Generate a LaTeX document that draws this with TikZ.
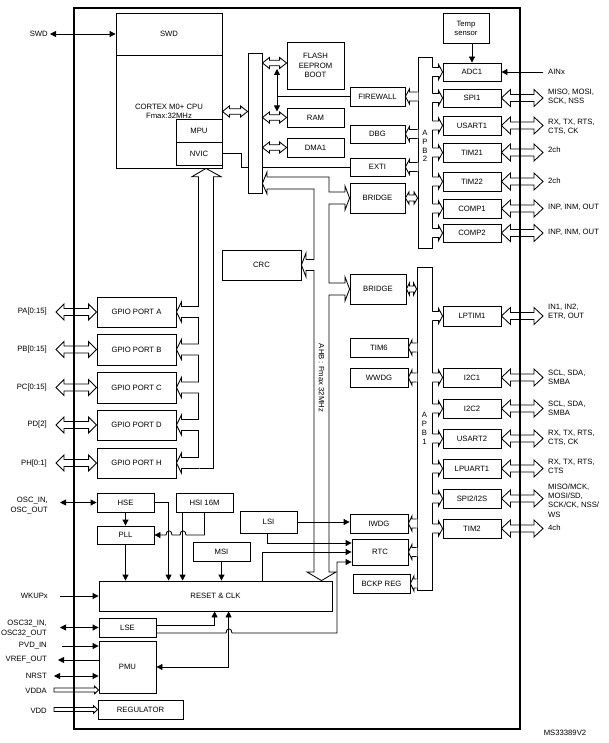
\documentclass[tikz,border=0pt]{standalone}
\usepackage{fontspec}
\setmainfont{Liberation Sans}
\usetikzlibrary{arrows.meta,calc}
\newcommand\myfs{\fontsize{7.7}{9.2}\selectfont}
\newcommand\bx[6]{\node[box, minimum width={#4-#2}, minimum height={#5-#3}] (#1) at ({(#2+#4)/2},{(#3+#5)/2}) {#6};}
% hollow single arrow, open base, white fill: #1 sign (- right, + left), #2 base, #3 tip, #4 shaft half, #5 head half, #6 head length
\newcommand\hbus[6]{%
 \fill[white] let \p1=#2,\p2=#3 in ({\x1#10.9pt},{\y2+#4pt}) -- ({\x2#1#6pt},{\y2+#4pt}) -- ({\x2#1#6pt},{\y2+#5pt}) -- (\p2) -- ({\x2#1#6pt},{\y2-#5pt}) -- ({\x2#1#6pt},{\y2-#4pt}) -- ({\x1#10.9pt},{\y2-#4pt}) -- cycle;
 \draw[line,line join=miter] let \p1=#2,\p2=#3 in ({\x1},{\y2+#4pt}) -- ({\x2#1#6pt},{\y2+#4pt}) -- ({\x2#1#6pt},{\y2+#5pt}) -- (\p2) -- ({\x2#1#6pt},{\y2-#5pt}) -- ({\x2#1#6pt},{\y2-#4pt}) -- ({\x1},{\y2-#4pt});}
% hollow single arrow, closed, rightward
\newcommand\hbusc[5]{\draw[line] let \p1=#1,\p2=#2 in ({\x1},{\y2+#3pt}) -- ({\x2-#5pt},{\y2+#3pt}) -- ({\x2-#5pt},{\y2+#4pt}) -- (\p2) -- ({\x2-#5pt},{\y2-#4pt}) -- ({\x2-#5pt},{\y2-#3pt}) -- ({\x1},{\y2-#3pt}) -- cycle;}
% hollow double arrow: #2 left point (x), #3 right point (x,y)
\newcommand\dbus[6][]{\draw[line,line join=miter,#1] let \p1=#2,\p2=#3 in ({\x1},{\y2}) -- ({\x1+#6pt},{\y2+#5pt}) -- ({\x1+#6pt},{\y2+#4pt}) -- ({\x2-#6pt},{\y2+#4pt}) -- ({\x2-#6pt},{\y2+#5pt}) -- ({\x2},{\y2}) -- ({\x2-#6pt},{\y2-#5pt}) -- ({\x2-#6pt},{\y2-#4pt}) -- ({\x1+#6pt},{\y2-#4pt}) -- ({\x1+#6pt},{\y2-#5pt}) -- cycle;}
\begin{document}
\begin{tikzpicture}[x=1pt,y=-1pt,
 line/.style={line width=0.85pt},
 box/.style={draw,line width=0.85pt,fill=white,inner sep=0pt,align=center,font=\myfs},
 lbl/.style={inner sep=0pt,font=\myfs},
 arr/.style={line width=0.85pt,-{Triangle[length=6pt,width=6pt]}},
 darr/.style={line width=0.85pt,{Triangle[length=6pt,width=6pt]}-{Triangle[length=6pt,width=6pt]}}]
\useasboundingbox (0,0) rectangle (608,743);
\node[draw,line width=1.1pt,inner sep=0pt,minimum width=446,minimum height=721] (outer) at (297,368.5) {};
% boxes
\bx{swd}{116}{13}{222}{55}{SWD}
\bx{cpu}{116}{55}{222}{168}{CORTEX M0+ CPU\\Fmax:32MHz}
\bx{mpu}{176}{119}{222}{142}{MPU}
\bx{nvic}{176}{142}{222}{165}{NVIC}
\bx{flash}{287}{42}{344}{89}{FLASH\\EEPROM\\BOOT}
\bx{ram}{287}{108}{344}{127}{RAM}
\bx{dma}{287}{138}{344}{157}{DMA1}
\bx{firewall}{350}{87}{405}{106}{FIREWALL}
\bx{dbg}{350}{125}{405}{143}{DBG}
\bx{exti}{350}{158}{405}{176}{EXTI}
\bx{bridgeA}{350}{183}{405}{213}{BRIDGE}
\bx{temp}{443}{13}{489}{43}{Temp\\sensor}
\bx{adc}{443}{63}{501}{81}{ADC1}
\bx{spi1}{443}{89}{501}{107}{SPI1}
\bx{usart1}{443}{116}{501}{135}{USART1}
\bx{tim21}{443}{143}{501}{162}{TIM21}
\bx{tim22}{443}{172}{501}{191}{TIM22}
\bx{comp1}{443}{199}{501}{218}{COMP1}
\bx{comp2}{443}{224}{501}{242}{COMP2}
\bx{crc}{222}{250}{301}{280}{CRC}
\bx{bridgeB}{350}{274}{406}{304}{BRIDGE}
\bx{tim6}{350}{338}{408}{357}{TIM6}
\bx{wwdg}{350}{368}{408}{387}{WWDG}
\bx{iwdg}{350}{514}{408}{533}{IWDG}
\bx{rtc}{352}{539}{408}{565}{RTC}
\bx{bckp}{353}{574}{410}{593}{BCKP REG}
\bx{lptim}{443}{306}{501}{326}{LPTIM1}
\bx{ictwoa}{443}{368}{501}{387}{I2C1}
\bx{ictwob}{443}{399}{501}{418}{I2C2}
\bx{usart2}{443}{429}{501}{448}{USART2}
\bx{lpuart}{443}{459}{501}{478}{LPUART1}
\bx{spi2}{443}{489}{501}{508}{SPI2/I2S}
\bx{tim2}{443}{519}{501}{538}{TIM2}
\bx{gpA}{97}{297}{176}{327}{GPIO PORT A}
\bx{gpB}{97}{334}{176}{365}{GPIO PORT B}
\bx{gpC}{97}{372}{176}{403}{GPIO PORT C}
\bx{gpD}{97}{410}{176}{440}{GPIO PORT D}
\bx{gpH}{97}{448}{176}{478}{GPIO PORT H}
\bx{hse}{97}{493}{154}{512}{HSE}
\bx{hsi}{176}{493}{233}{512}{HSI 16M}
\bx{pll}{97}{526}{154}{544}{PLL}
\bx{msi}{193}{542}{250}{561}{MSI}
\bx{lsi}{240}{511}{297}{533}{LSI}
\bx{reset}{99}{581}{332}{611}{RESET \& CLK}
\bx{lse}{99}{618}{156}{637}{LSE}
\bx{pmu}{99}{641}{156}{693}{PMU}
\bx{reg}{98}{700}{183}{719}{REGULATOR}
% line behind the CPU bus
\draw[line] (nvic.east) -- ++(19,0) |- (exti.west);
% buses
\bx{cpubus}{248}{53}{262}{193}{}
\bx{apb2}{418}{57}{432}{248}{}
\bx{apb1}{417}{267}{432}{590}{}
\node[lbl,align=center,font=\fontsize{7.7}{8.9}\selectfont] (apb2t) at (425,146) {A\\P\\B\\2};
\node[lbl,align=center,font=\fontsize{7.7}{8.9}\selectfont] (apb1t) at (424.5,428) {A\\P\\B\\1};
\node[inner sep=0pt,minimum width=14,minimum height=291.5] (gbus) at (206,322.75) {};
\draw[line] (gbus.north west) -- (gbus.south west) -- (gbus.south east) -- (gbus.north east);
\draw[line,line join=miter] (gbus.north west) -- ++(-7,0) -- (gbus.north |- cpu.south) -- ($(gbus.north east)+(8,0)$) -- (gbus.north east);
\foreach \nm in {gpA,gpB,gpC,gpD,gpH} {\hbus{+}{(gbus.west)}{(\nm.east)}{5.5}{10}{5}}
% AHB
\coordinate (ahbx) at (321.5,0);
\draw[line,line join=miter] (267,177) -- (267,172) -- ($(cpubus.south east)+(0,-10)$) -- (267,194) -- (267,189) -- (314,189) -- (314,259.5) -- (306,259.5) -- (306,253) -- (crc.east) -- (306,277) -- (306,270.5) -- (314,270.5) -- (314,572) -- (307,572) -- (ahbx |- reset.north) -- (336,572) -- (329,572) -- (329,295) -- (345,295) -- (345,301) -- (bridgeB.west) -- (345,277) -- (345,283) -- (329,283) -- (329,204) -- (345,204) -- (345,210) -- (bridgeA.west) -- (345,186) -- (345,192) -- (329,192) -- (329,177) -- cycle;
\node[lbl,rotate=-90] (ahbt) at (321.5,378) {AHB : Fmax 32MHz};
% APB connectors
\foreach \nm in {adc,spi1,usart1,tim21,tim22,comp1,comp2} {\hbus{-}{(apb2.east)}{(\nm.west)}{4.5}{7.5}{4}}
\foreach \nm in {firewall,dbg,exti} {\hbus{+}{(apb2.west)}{(\nm.east)}{4.5}{7.5}{4}}
\foreach \nm in {lptim,ictwoa,ictwob,usart2,lpuart,spi2,tim2} {\hbus{-}{(apb1.east)}{(\nm.west)}{4.5}{7.5}{4}}
\foreach \nm in {tim6,wwdg,iwdg,rtc,bckp} {\hbus{+}{(apb1.west)}{(\nm.east)}{4.5}{7.5}{3.5}}
\dbus[fill=white]{(bridgeA.east)}{(apb2.west |- bridgeA.east)}{3}{6}{3.5}
\dbus[fill=white]{(bridgeB.east)}{(apb1.west |- bridgeB.east)}{3}{6}{3}
% CPU bus connectors
\dbus{(cpu.east)}{(cpubus.west |- cpu.east)}{2.7}{5.5}{7}
\dbus{(cpubus.east)}{([yshift=2.5pt]flash.west)}{2.7}{5.5}{7}
\dbus{(cpubus.east)}{(ram.west)}{2.7}{5.5}{7}
\dbus{(cpubus.east)}{(dma.west)}{2.7}{5.5}{7}
\coordinate (vt) at (277,69);
\coordinate (vb) at (277,111.5);
\draw[darr] (vt) -- (vb);
\draw[line] (firewall.west) -- (firewall.west -| vt);
% temp, ADC input
\draw[arr] (temp.south -| adc.north) -- (adc.north);
\coordinate (cain) at (543,72);
\draw[arr] (cain) -- (adc.east);
% clocks
\draw[arr] (hse.south) -- (pll.north);
\coordinate (rH) at ([xshift=70pt]reset.north west);
\draw[arr] (hse.east) -| (rH);
\coordinate (hsiA) at ([xshift=7pt]hsi.south west);
\draw[arr] (hsiA) -- (hsiA |- reset.north);
\draw[arr] (hsi.south) -- (hsi.south |- pll.east) -- (186,535) .. controls (186,529.5) and (180,529.5) .. (180,535) -- (172,535) .. controls (172,529.5) and (166,529.5) .. (166,535) -- (pll.east);
\draw[arr] (pll.south) -- (pll.south |- reset.north);
\draw[arr] (msi.south) -- (msi.south |- reset.north);
\draw[arr] (lsi.east) -- (lsi.east -| iwdg.west);
\coordinate (lsiB) at ([xshift=28pt]lsi.south west);
\draw[arr] (lsiB) |- ([yshift=9pt]rtc.west);
\coordinate (rA) at ([xshift=164pt]reset.north west);
\draw[arr] (rA) |- (rtc.west);
\draw[arr] ([yshift=-5.5pt]lse.east) -- (226,633) .. controls (226,627.5) and (232,627.5) .. (232,633) -- (337,633) -- (337,562) -- ([yshift=-10pt]rtc.west);
\coordinate (rB) at ([xshift=116pt]reset.south west);
\draw[arr] ([yshift=2.5pt]lse.east) -| (rB);
\coordinate (rC) at ([xshift=130pt]reset.south west);
\draw[darr] (pmu.east) -| (rC);
% left I/O
\node[lbl,anchor=east] (tswd) at (48,34) {SWD};
\draw[darr] ([xshift=2pt]tswd.east) -- (swd.west);
\coordinate (lio) at (56,0);
\foreach \nm in {gpA,gpB,gpC,gpD,gpH} {\dbus{(\nm.west -| lio)}{(\nm.west)}{3.5}{8}{8}}
\node[lbl,anchor=east] (tpa) at (47,312) {PA[0:15]};
\node[lbl,anchor=east] (tpb) at (47,349.5) {PB[0:15]};
\node[lbl,anchor=east] (tpc) at (47,387.5) {PC[0:15]};
\node[lbl,anchor=east] (tpd) at (47,425) {PD[2]};
\node[lbl,anchor=east] (tph) at (47,463.5) {PH[0:1]};
\node[lbl,anchor=east,align=right] (tosc) at (48,505.5) {OSC\_IN,\\OSC\_OUT};
\coordinate (cosc) at (60,502.5);
\draw[darr] (cosc) -- (hse.west);
\node[lbl,anchor=east] (twk) at (48,595.5) {WKUPx};
\coordinate (cwk) at (60,596);
\draw[arr] (cwk) -- (reset.west);
\node[lbl,anchor=east,align=right] (tosc32) at (47,628.5) {OSC32\_IN,\\OSC32\_OUT};
\coordinate (cosc32) at (60,627.5);
\draw[darr] (cosc32) -- (lse.west);
\node[lbl,anchor=east] (tpvd) at (47,646) {PVD\_IN};
\coordinate (cpvd) at (62,646);
\draw[arr] (cpvd) -- (cpvd -| pmu.west);
\node[lbl,anchor=east] (tvref) at (47,659.5) {VREF\_OUT};
\coordinate (cvref) at (58,660);
\draw[arr] (cvref -| pmu.west) -- (cvref);
\node[lbl,anchor=east] (tnrst) at (47,676) {NRST};
\coordinate (cnrst) at (54,676);
\draw[darr] (cnrst) -- (cnrst -| pmu.west);
\node[lbl,anchor=east] (tvdda) at (47,691) {VDDA};
\coordinate (cvdda) at (54,690);
\hbusc{(cvdda)}{(cvdda -| pmu.west)}{2}{3.8}{4}
\node[lbl,anchor=east] (tvdd) at (47,711) {VDD};
\coordinate (cvdd) at (54,709.5);
\hbusc{(cvdd)}{(reg.west)}{2}{3.8}{4}
% right I/O
\coordinate (rio) at (543,0);
\foreach \nm in {spi1,usart1,tim21,tim22,comp1,comp2,lptim,ictwoa,ictwob,usart2,lpuart,spi2,tim2} {\dbus{(\nm.east)}{(\nm.east -| rio)}{3.5}{8.5}{9}}
\node[lbl,anchor=west] (tain) at (548,72) {AINx};
\node[lbl,anchor=west,align=left] (tspi1) at (548,97) {MISO, MOSI,\\SCK, NSS};
\node[lbl,anchor=west,align=left] (tus1) at (548,126.5) {RX, TX, RTS,\\CTS, CK};
\node[lbl,anchor=west] (tt21) at (548,150) {2ch};
\node[lbl,anchor=west] (tt22) at (548,181) {2ch};
\node[lbl,anchor=west] (tc1) at (548,207) {INP, INM, OUT};
\node[lbl,anchor=west] (tc2) at (548,232) {INP, INM, OUT};
\node[lbl,anchor=west,align=left] (tlp) at (548,311.5) {IN1, IN2,\\ETR, OUT};
\node[lbl,anchor=west,align=left] (ti1) at (548,377.5) {SCL, SDA,\\SMBA};
\node[lbl,anchor=west,align=left] (ti2) at (548,408.5) {SCL, SDA,\\SMBA};
\node[lbl,anchor=west,align=left] (tus2) at (548,438) {RX, TX, RTS,\\CTS, CK};
\node[lbl,anchor=west,align=left] (tlpu) at (548,466) {RX, TX, RTS,\\CTS};
\node[lbl,anchor=west,align=left] (tsp2) at (548,500.5) {MISO/MCK,\\MOSI/SD,\\SCK/CK, NSS/\\WS};
\node[lbl,anchor=west] (ttim2) at (548,528) {4ch};
\node[lbl] (tms) at (565,733) {MS33389V2};
\end{tikzpicture}
\end{document}
